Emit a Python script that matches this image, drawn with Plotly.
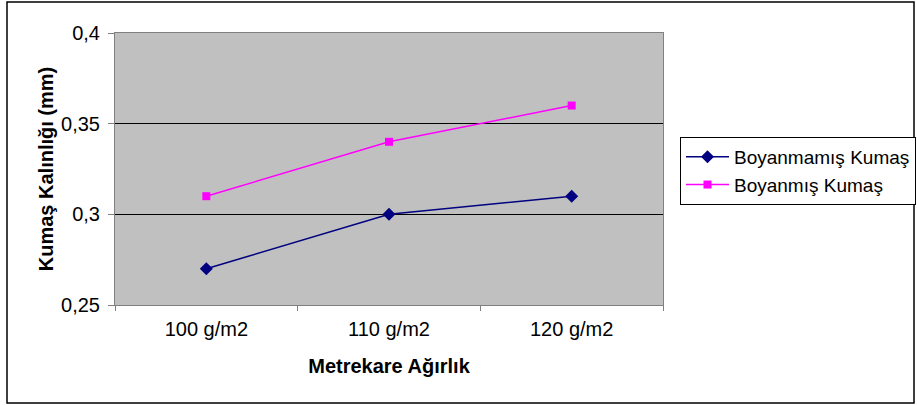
import plotly.graph_objects as go

categories = ["100 g/m2", "110 g/m2", "120 g/m2"]
boyanmamis = [0.27, 0.30, 0.31]
boyanmis = [0.31, 0.34, 0.36]
y_ticks = [0.25, 0.30, 0.35, 0.40]

W, H = 917, 405
L, R, T, B = 115, 663, 33, 305
pw, ph = R - L, B - T

fig = go.Figure()
fig.add_trace(go.Scatter(
    x=categories, y=boyanmamis, name="Boyanmamış Kumaş", mode="lines+markers",
    line=dict(color="#000080", width=1.5),
    marker=dict(symbol="diamond", size=10, color="#000080"),
))
fig.add_trace(go.Scatter(
    x=categories, y=boyanmis, name="Boyanmış Kumaş", mode="lines+markers",
    line=dict(color="#FF00FF", width=1.5),
    marker=dict(symbol="square", size=8, color="#FF00FF"),
))

font = "Liberation Sans, Arial, sans-serif"

fig.update_layout(
    width=W, height=H,
    margin=dict(l=L, r=W - R, t=T, b=H - B, autoexpand=False),
    paper_bgcolor="white", plot_bgcolor="#C0C0C0",
    separators=",.",
    font=dict(family=font, size=19, color="black"),
    showlegend=True,
    legend=dict(
        x=(680 - L) / pw, y=(B - 137) / ph, xanchor="left", yanchor="top",
        bordercolor="black", borderwidth=1, bgcolor="white",
        font=dict(size=19), tracegroupgap=0, itemwidth=43,
    ),
    xaxis=dict(
        type="category", range=[-0.5, 2.5],
        showline=True, linecolor="#808080", linewidth=1, mirror=True,
        ticks="outside", tickson="boundaries", ticklen=5, tickcolor="#808080",
        showgrid=False, tickfont=dict(size=20), ticklabelstandoff=6,
        title=dict(text="<b>Metrekare Ağırlık</b>", font=dict(size=20), standoff=19),
    ),
    yaxis=dict(
        range=[0.25, 0.40], tickvals=y_ticks,
        showline=True, linecolor="#808080", linewidth=1, mirror=True,
        ticks="outside", ticklen=6, tickcolor="#808080",
        showgrid=True, gridcolor="black", gridwidth=1,
        tickfont=dict(size=20), ticklabelstandoff=4,
        title=dict(text="<b>Kumaş Kalınlığı (mm)</b>", font=dict(size=20), standoff=2),
    ),
)

# Outer chart frame
fig.add_shape(
    type="rect", xref="paper", yref="paper",
    x0=(7 - L) / pw, x1=(914 - L) / pw,
    y0=(B - 403) / ph, y1=(B - 2) / ph,
    line=dict(color="black", width=1.5), fillcolor="rgba(0,0,0,0)", layer="below",
)

fig.write_html("out.html")
